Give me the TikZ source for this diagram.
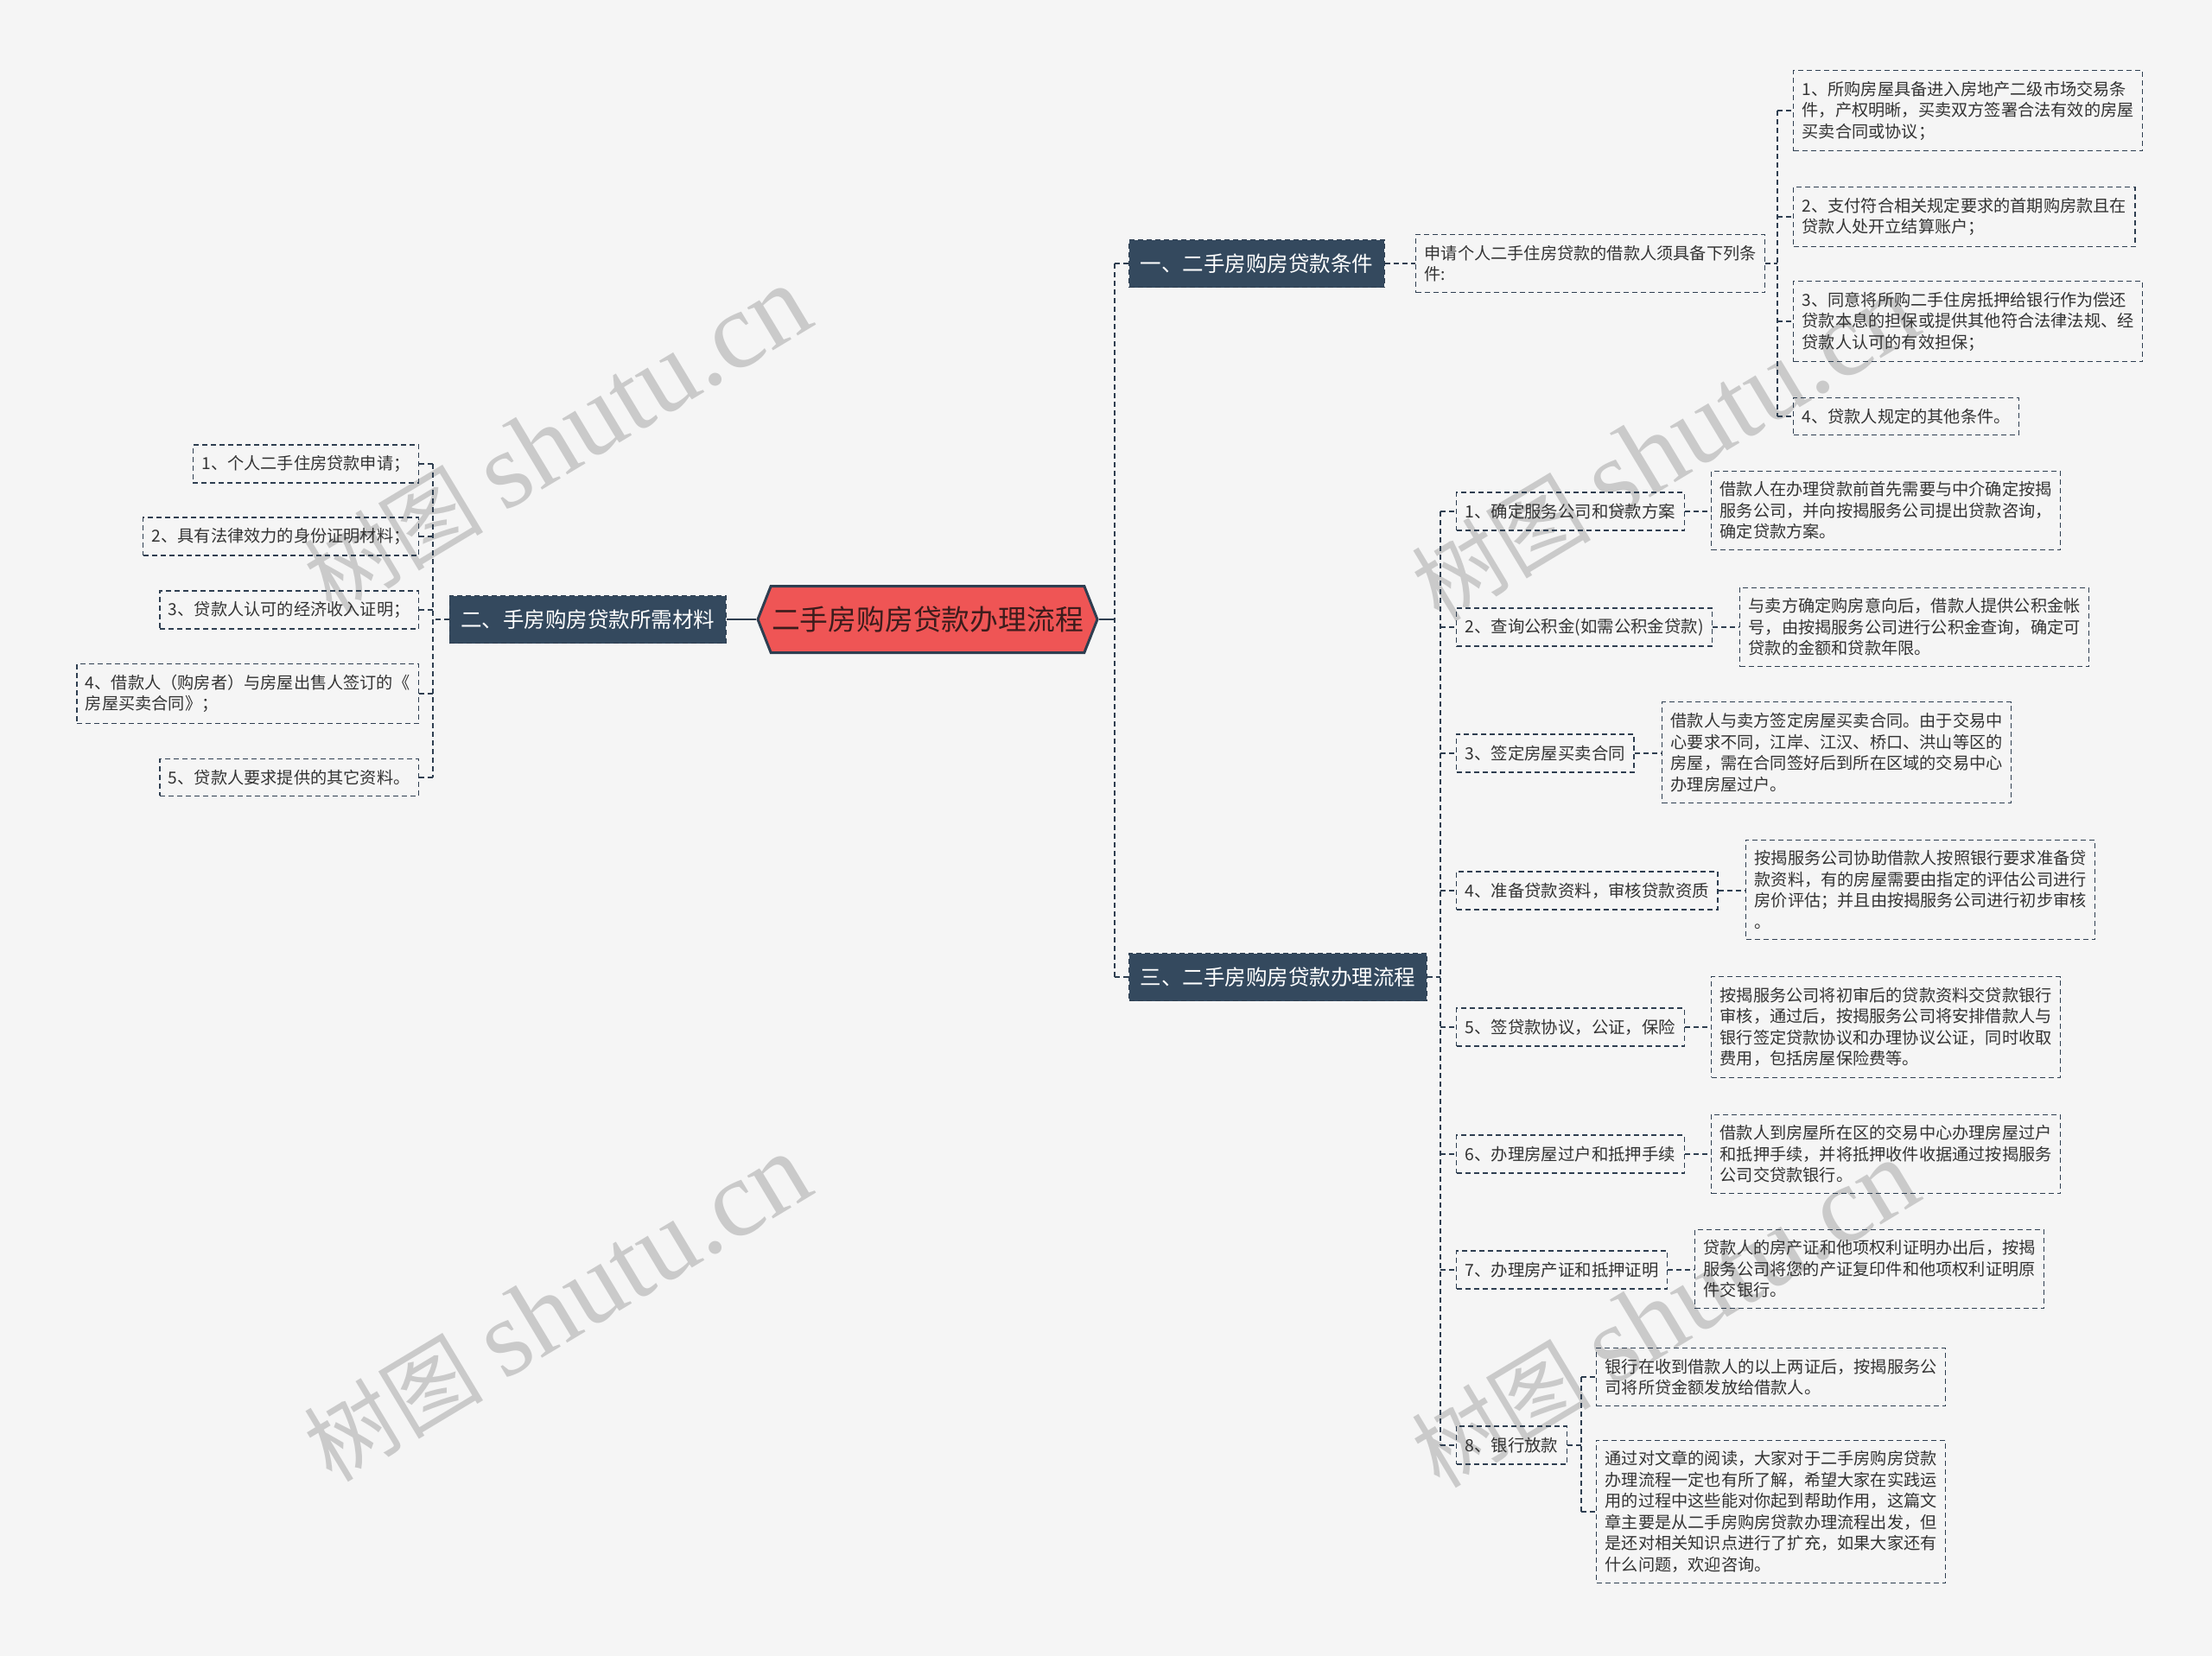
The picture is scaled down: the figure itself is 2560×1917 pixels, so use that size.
\documentclass[tikz,border=0pt]{standalone}
\usepackage{fontspec}
\setmainfont{Noto Sans CJK SC}
\newfontfamily\wmlatin{Liberation Serif}
\usetikzlibrary{shapes.symbols}
\definecolor{bgcol}{RGB}{245,245,245}
\definecolor{navy}{RGB}{46,62,80}
\definecolor{branchfill}{RGB}{52,73,94}
\definecolor{rootfill}{RGB}{239,85,85}
\definecolor{roottext}{RGB}{60,28,28}
\definecolor{leaftext}{RGB}{51,51,51}
\definecolor{wmgray}{RGB}{202,202,202}

\begin{document}
\begin{tikzpicture}[x=0.5pt,y=-0.5pt,
  link/.style={draw=navy, line width=0.6pt, dash pattern=on 3pt off 2pt},
  rootlink/.style={draw=navy, line width=1.3pt},
  rootbox/.style={signal, signal to=east and west, signal pointer angle=137,
    fill=rootfill, draw=navy, line width=1.5pt, minimum width=196.5pt,
    minimum height=38.5pt, inner sep=0pt, text=roottext,
    font=\fontsize{16.4}{19}\selectfont},
  branchbox/.style={fill=branchfill, draw=navy, line width=0.6pt,
    dash pattern=on 3pt off 2pt, text=white, minimum height=27.5pt,
    inner xsep=6.5pt, font=\fontsize{12.25}{14}\selectfont},
  stepbox/.style={draw=navy, line width=0.6pt, dash pattern=on 3pt off 2pt,
    minimum height=22pt, inner xsep=5pt, text=leaftext,
    font=\fontsize{9.7}{12}\selectfont},
  leafbox/.style={draw=navy, line width=0.6pt, dash pattern=on 3pt off 2pt,
    inner xsep=5pt, inner ysep=6.2pt, align=left, text=leaftext,
    font=\fontsize{9.6}{12.25}\selectfont},
  wmark/.style={text=wmgray, rotate=31, font=\fontsize{52}{56}\selectfont},
]
\fill[bgcol] (0,0) rectangle (2560,1917);

% watermarks, under everything
\node[wmark] (wm1) at (645,510) {树图 {\wmlatin\fontsize{63}{66}\selectfont shutu.cn}};
\node[wmark] (wm2) at (1927,519) {树图 {\wmlatin\fontsize{63}{66}\selectfont shutu.cn}};
\node[wmark] (wm3) at (645,1515) {树图 {\wmlatin\fontsize{63}{66}\selectfont shutu.cn}};
\node[wmark] (wm4) at (1927,1522) {树图 {\wmlatin\fontsize{63}{66}\selectfont shutu.cn}};

% root and branches
\node[rootbox] (root) at (1073.5,717) {二手房购房贷款办理流程};
\node[branchbox, anchor=west] (b1) at (1306,305) {一、二手房购房贷款条件};
\node[branchbox, anchor=east] (b2) at (841,717) {二、手房购房贷款所需材料};
\node[branchbox, anchor=west] (b3) at (1306,1131) {三、二手房购房贷款办理流程};

\coordinate (spR) at (1290,717);
\draw[rootlink] (b2.east) -- (root.west);
\draw[rootlink] (root.east) -- (spR);
\draw[link] (spR |- b1.west) -- (spR |- b3.west);
\draw[link] (spR |- b1.west) -- (b1.west);
\draw[link] (spR |- b3.west) -- (b3.west);

% branch 1
\node[leafbox, anchor=west] (sub1) at (1638,305) {申请个人二手住房贷款的借款人须具备下列条\\件:};
\node[leafbox, anchor=west] (l1) at (2075,128) {1、所购房屋具备进入房地产二级市场交易条\\件，产权明晰，买卖双方签署合法有效的房屋\\买卖合同或协议；};
\node[leafbox, anchor=west] (l2) at (2075,251) {2、支付符合相关规定要求的首期购房款且在\\贷款人处开立结算账户；};
\node[leafbox, anchor=west] (l3) at (2075,372) {3、同意将所购二手住房抵押给银行作为偿还\\贷款本息的担保或提供其他符合法律法规、经\\贷款人认可的有效担保；};
\node[leafbox, anchor=west] (l4) at (2075,482) {4、贷款人规定的其他条件。};

\coordinate (sp1) at (2057,305);
\draw[link] (b1.east) -- (sub1.west);
\draw[link] (sub1.east) -- (sp1);
\draw[link] (sp1 |- l1.west) -- (sp1 |- l4.west);
\foreach \n in {l1,l2,l3,l4}
  \draw[link] (sp1 |- \n.west) -- (\n.west);

% branch 2
\node[leafbox, anchor=east] (m1) at (485,537) {1、个人二手住房贷款申请；};
\node[leafbox, anchor=east] (m2) at (485,621) {2、具有法律效力的身份证明材料；};
\node[leafbox, anchor=east] (m3) at (485,706) {3、贷款人认可的经济收入证明；};
\node[leafbox, anchor=east] (m4) at (485,803) {4、借款人（购房者）与房屋出售人签订的《\\房屋买卖合同》；};
\node[leafbox, anchor=east] (m5) at (485,900) {5、贷款人要求提供的其它资料。};

\coordinate (sp2) at (501,717);
\draw[link] (b2.west) -- (sp2);
\draw[link] (sp2 |- m1.east) -- (sp2 |- m5.east);
\foreach \n in {m1,m2,m3,m4,m5}
  \draw[link] (sp2 |- \n.east) -- (\n.east);

% branch 3
\node[stepbox, anchor=west] (s1) at (1685,592) {1、确定服务公司和贷款方案};
\node[stepbox, anchor=west] (s2) at (1685,726) {2、查询公积金(如需公积金贷款)};
\node[stepbox, anchor=west] (s3) at (1685,872) {3、签定房屋买卖合同};
\node[stepbox, anchor=west] (s4) at (1685,1031) {4、准备贷款资料，审核贷款资质};
\node[stepbox, anchor=west] (s5) at (1685,1189) {5、签贷款协议，公证，保险};
\node[stepbox, anchor=west] (s6) at (1685,1336) {6、办理房屋过户和抵押手续};
\node[stepbox, anchor=west] (s7) at (1685,1470) {7、办理房产证和抵押证明};
\node[stepbox, anchor=west] (s8) at (1685,1673) {8、银行放款};

\node[leafbox, anchor=west] (d1) at (1980,591) {借款人在办理贷款前首先需要与中介确定按揭\\服务公司，并向按揭服务公司提出贷款咨询，\\确定贷款方案。};
\node[leafbox, anchor=west] (d2) at (2013,726) {与卖方确定购房意向后，借款人提供公积金帐\\号，由按揭服务公司进行公积金查询，确定可\\贷款的金额和贷款年限。};
\node[leafbox, anchor=west] (d3) at (1923,871) {借款人与卖方签定房屋买卖合同。由于交易中\\心要求不同，江岸、江汉、桥口、洪山等区的\\房屋，需在合同签好后到所在区域的交易中心\\办理房屋过户。};
\node[leafbox, anchor=west] (d4) at (2020,1030) {按揭服务公司协助借款人按照银行要求准备贷\\款资料，有的房屋需要由指定的评估公司进行\\房价评估；并且由按揭服务公司进行初步审核\\。};
\node[leafbox, anchor=west] (d5) at (1980,1189) {按揭服务公司将初审后的贷款资料交贷款银行\\审核，通过后，按揭服务公司将安排借款人与\\银行签定贷款协议和办理协议公证，同时收取\\费用，包括房屋保险费等。};
\node[leafbox, anchor=west] (d6) at (1980,1336) {借款人到房屋所在区的交易中心办理房屋过户\\和抵押手续，并将抵押收件收据通过按揭服务\\公司交贷款银行。};
\node[leafbox, anchor=west] (d7) at (1961,1469) {贷款人的房产证和他项权利证明办出后，按揭\\服务公司将您的产证复印件和他项权利证明原\\件交银行。};
\node[leafbox, anchor=west] (d8a) at (1847,1594) {银行在收到借款人的以上两证后，按揭服务公\\司将所贷金额发放给借款人。};
\node[leafbox, anchor=west] (d8b) at (1847,1750) {通过对文章的阅读，大家对于二手房购房贷款\\办理流程一定也有所了解，希望大家在实践运\\用的过程中这些能对你起到帮助作用，这篇文\\章主要是从二手房购房贷款办理流程出发，但\\是还对相关知识点进行了扩充，如果大家还有\\什么问题，欢迎咨询。};

\coordinate (sp3) at (1667,1131);
\draw[link] (b3.east) -- (sp3);
\draw[link] (sp3 |- s1.west) -- (sp3 |- s8.west);
\foreach \n in {s1,s2,s3,s4,s5,s6,s7,s8}
  \draw[link] (sp3 |- \n.west) -- (\n.west);
\foreach \n/\m in {s1/d1,s2/d2,s3/d3,s4/d4,s5/d5,s6/d6,s7/d7}
  \draw[link] (\n.east) -- (\m.west |- \n.east);

\coordinate (sp8) at (1830,1673);
\draw[link] (s8.east) -- (sp8);
\draw[link] (sp8 |- d8a.west) -- (sp8 |- d8b.west);
\draw[link] (sp8 |- d8a.west) -- (d8a.west);
\draw[link] (sp8 |- d8b.west) -- (d8b.west);
\end{tikzpicture}
\end{document}
